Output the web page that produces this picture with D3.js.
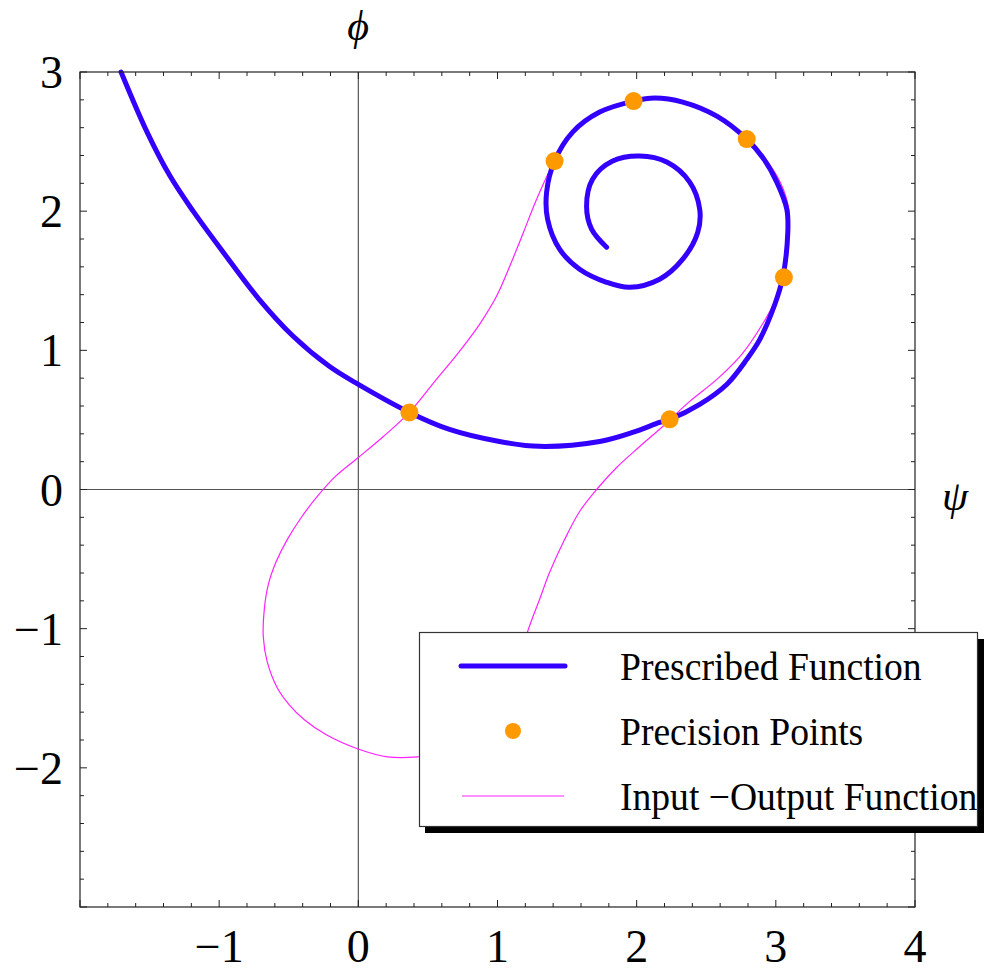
<!DOCTYPE html>
<html>
<head>
<meta charset="utf-8">
<script src="https://cdn.jsdelivr.net/npm/d3@7"></script>
<style>
  body { margin: 0; background: #fff; }
  text { font-family: 'Liberation Serif', 'Times New Roman', serif; fill: #000; }
</style>
</head>
<body>
<div id="chart-area"></div>
<script>
// Prescribed function (blue spiral), psi / phi pairs
let prescribedPsi = [-1.705, -1.518, -1.353, -1.187, -0.971, -0.719, -0.468, -0.209, 0, 0.367, 0.655, 1.014, 1.30,
  1.734, 1.971, 2.165, 2.237, 2.453, 2.647, 2.791, 2.885, 2.993, 3.05, 3.086, 3.079, 3.007, 2.914, 2.791, 2.576,
  2.331, 2.13, 1.978, 1.734, 1.54, 1.41, 1.353, 1.36, 1.446, 1.59, 1.784, 1.95, 2.165, 2.331, 2.439, 2.453, 2.381,
  2.216, 2.022, 1.827, 1.683, 1.64, 1.676, 1.784];
let prescribedPhi = [3.0, 2.568, 2.252, 2.0, 1.705, 1.374, 1.101, 0.885, 0.755, 0.554, 0.432, 0.345, 0.31,
  0.345, 0.41, 0.482, 0.504, 0.612, 0.755, 0.935, 1.079, 1.331, 1.525, 1.849, 2.014, 2.209, 2.374, 2.518, 2.683,
  2.784, 2.813, 2.791, 2.712, 2.568, 2.36, 2.137, 1.942, 1.727, 1.583, 1.489, 1.453, 1.511, 1.655, 1.849, 2.014, 2.209,
  2.353, 2.396, 2.36, 2.23, 2.036, 1.871, 1.741];

// Input-output function (closed magenta curve)
let ioPsi = [1.41, 1.345, 1.266, 1.187, 1.094, 0.993, 0.871, 0.727, 0.561, 0.367, 0.18, 0, -0.165, -0.295, -0.41,
  -0.511, -0.59, -0.647, -0.676, -0.683, -0.655, -0.583, -0.496, -0.388, -0.23, -0.007, 0.209, 0.424, 0.7, 0.95,
  1.12, 1.216, 1.302, 1.374, 1.482, 1.59, 1.712, 1.856, 2.022, 2.187, 2.381, 2.576, 2.755, 2.899, 2.993, 3.058,
  3.095, 3.09, 3.035, 2.925, 2.791, 2.58, 2.33, 2.13, 1.978, 1.734, 1.54, 1.41];
let ioPhi = [2.36, 2.23, 2.05, 1.849, 1.619, 1.388, 1.187, 0.993, 0.791, 0.554, 0.381, 0.23, 0.094, -0.05, -0.201,
  -0.36, -0.518, -0.683, -0.863, -1.058, -1.237, -1.424, -1.547, -1.655, -1.763, -1.863, -1.921, -1.921, -1.87, -1.68,
  -1.35, -1.022, -0.791, -0.597, -0.36, -0.158, 0, 0.158, 0.309, 0.453, 0.633, 0.791, 0.971, 1.18, 1.353, 1.525,
  1.85, 2.03, 2.2, 2.375, 2.518, 2.69, 2.79, 2.815, 2.791, 2.712, 2.568, 2.36];

// Precision points
let precisionPsi = [0.367, 2.237, 3.058, 2.791, 1.978, 1.41];
let precisionPhi = [0.554, 0.504, 1.525, 2.518, 2.791, 2.36];

// Ticks
let xTickValues = [-1, 0, 1, 2, 3, 4];
let yTickValues = [-2, -1, 0, 1, 2, 3];
let legendLabels = ['Prescribed Function', 'Precision Points', 'Input \u2212Output Function'];

let prescribed = prescribedPsi.map((d, i) => ({ x: d, y: prescribedPhi[i] }));
let io = ioPsi.map((d, i) => ({ x: d, y: ioPhi[i] }));
let precision = precisionPsi.map((d, i) => ({ x: d, y: precisionPhi[i] }));

let blue = '#3300ff', orange = '#ff9900', magenta = '#ff22ff';

let svg = d3.select('#chart-area').append('svg')
  .attr('width', 984)
  .attr('height', 971);

// Scales
let x = d3.scaleLinear().domain([-2, 4]).range([80, 915]);
let y = d3.scaleLinear().domain([-3, 3]).range([907, 72]);

let fmt = d => (d < 0 ? '\u2212' + Math.abs(d) : '' + d);

// Zero axes
svg.append('line')
  .attr('x1', x(0)).attr('x2', x(0)).attr('y1', y(3)).attr('y2', y(-3))
  .attr('stroke', '#555').attr('stroke-width', 1.2);
svg.append('line')
  .attr('x1', x(-2)).attr('x2', x(4)).attr('y1', y(0)).attr('y2', y(0))
  .attr('stroke', '#555').attr('stroke-width', 1.2);

// Curves
let line = d3.line()
  .x(d => x(d.x))
  .y(d => y(d.y))
  .curve(d3.curveCatmullRom);

svg.append('path')
  .datum(io)
  .attr('d', line)
  .attr('fill', 'none')
  .attr('stroke', magenta)
  .attr('stroke-width', 1.2);

svg.append('path')
  .datum(prescribed)
  .attr('d', line)
  .attr('fill', 'none')
  .attr('stroke', blue)
  .attr('stroke-width', 5)
  .attr('stroke-linecap', 'round');

svg.selectAll('.point')
  .data(precision)
  .enter()
  .append('circle')
  .attr('class', 'point')
  .attr('cx', d => x(d.x))
  .attr('cy', d => y(d.y))
  .attr('r', 9)
  .attr('fill', orange);

// Frame with ticks on all four sides
let frame = svg.append('g');
frame.append('rect')
  .attr('x', x(-2)).attr('y', y(3))
  .attr('width', x(4) - x(-2)).attr('height', y(-3) - y(3))
  .attr('fill', 'none').attr('stroke', '#222').attr('stroke-width', 1.2);

let minorX = d3.range(-2, 4.001, 0.2).map(v => +v.toFixed(1));
let minorY = d3.range(-3, 3.001, 0.2).map(v => +v.toFixed(1));
let isMajor = v => Math.abs(v - Math.round(v)) < 1e-6;

minorX.forEach(v => {
  let len = isMajor(v) ? 7 : 4;
  frame.append('line').attr('x1', x(v)).attr('x2', x(v)).attr('y1', y(-3)).attr('y2', y(-3) - len)
    .attr('stroke', '#222').attr('stroke-width', 1);
  frame.append('line').attr('x1', x(v)).attr('x2', x(v)).attr('y1', y(3)).attr('y2', y(3) + len)
    .attr('stroke', '#222').attr('stroke-width', 1);
});
minorY.forEach(v => {
  let len = isMajor(v) ? 7 : 4;
  frame.append('line').attr('x1', x(-2)).attr('x2', x(-2) + len).attr('y1', y(v)).attr('y2', y(v))
    .attr('stroke', '#222').attr('stroke-width', 1);
  frame.append('line').attr('x1', x(4)).attr('x2', x(4) - len).attr('y1', y(v)).attr('y2', y(v))
    .attr('stroke', '#222').attr('stroke-width', 1);
});

// Tick labels
svg.selectAll('.xlabel')
  .data(xTickValues)
  .enter()
  .append('text')
  .attr('class', 'xlabel')
  .attr('x', d => x(d))
  .attr('y', 962)
  .attr('text-anchor', 'middle')
  .attr('font-size', 46)
  .text(fmt);

svg.selectAll('.ylabel')
  .data(yTickValues)
  .enter()
  .append('text')
  .attr('class', 'ylabel')
  .attr('x', 63)
  .attr('y', d => y(d) + 16)
  .attr('text-anchor', 'end')
  .attr('font-size', 46)
  .text(fmt);

// Axis labels
svg.append('text')
  .attr('x', 358).attr('y', 40)
  .attr('text-anchor', 'middle')
  .attr('font-size', 42)
  .attr('font-style', 'italic')
  .text('\u03d5');
svg.append('text')
  .attr('x', 955).attr('y', 510)
  .attr('text-anchor', 'middle')
  .attr('font-size', 42)
  .attr('font-style', 'italic')
  .text('\u03c8');

// Legend
let legend = svg.append('g');
legend.append('rect')
  .attr('x', 425).attr('y', 639).attr('width', 559).attr('height', 194)
  .attr('fill', '#000');
legend.append('rect')
  .attr('x', 419.5).attr('y', 632.5).attr('width', 558).attr('height', 194)
  .attr('fill', '#fff').attr('stroke', '#333').attr('stroke-width', 1.2);

let rowY = [666, 731, 796];
legend.append('line')
  .attr('x1', 461).attr('x2', 565).attr('y1', rowY[0]).attr('y2', rowY[0])
  .attr('stroke', blue).attr('stroke-width', 5).attr('stroke-linecap', 'round');
legend.append('circle')
  .attr('cx', 513).attr('cy', rowY[1]).attr('r', 8).attr('fill', orange);
legend.append('line')
  .attr('x1', 462).attr('x2', 564).attr('y1', rowY[2]).attr('y2', rowY[2])
  .attr('stroke', magenta).attr('stroke-width', 1.2);

legend.selectAll('.legend-text')
  .data(legendLabels)
  .enter()
  .append('text')
  .attr('class', 'legend-text')
  .attr('transform', (d, i) => `translate(620, ${rowY[i] + 14}) scale(0.94, 1)`)
  .attr('font-size', 40)
  .text(d => d);
</script>
</body>
</html>
